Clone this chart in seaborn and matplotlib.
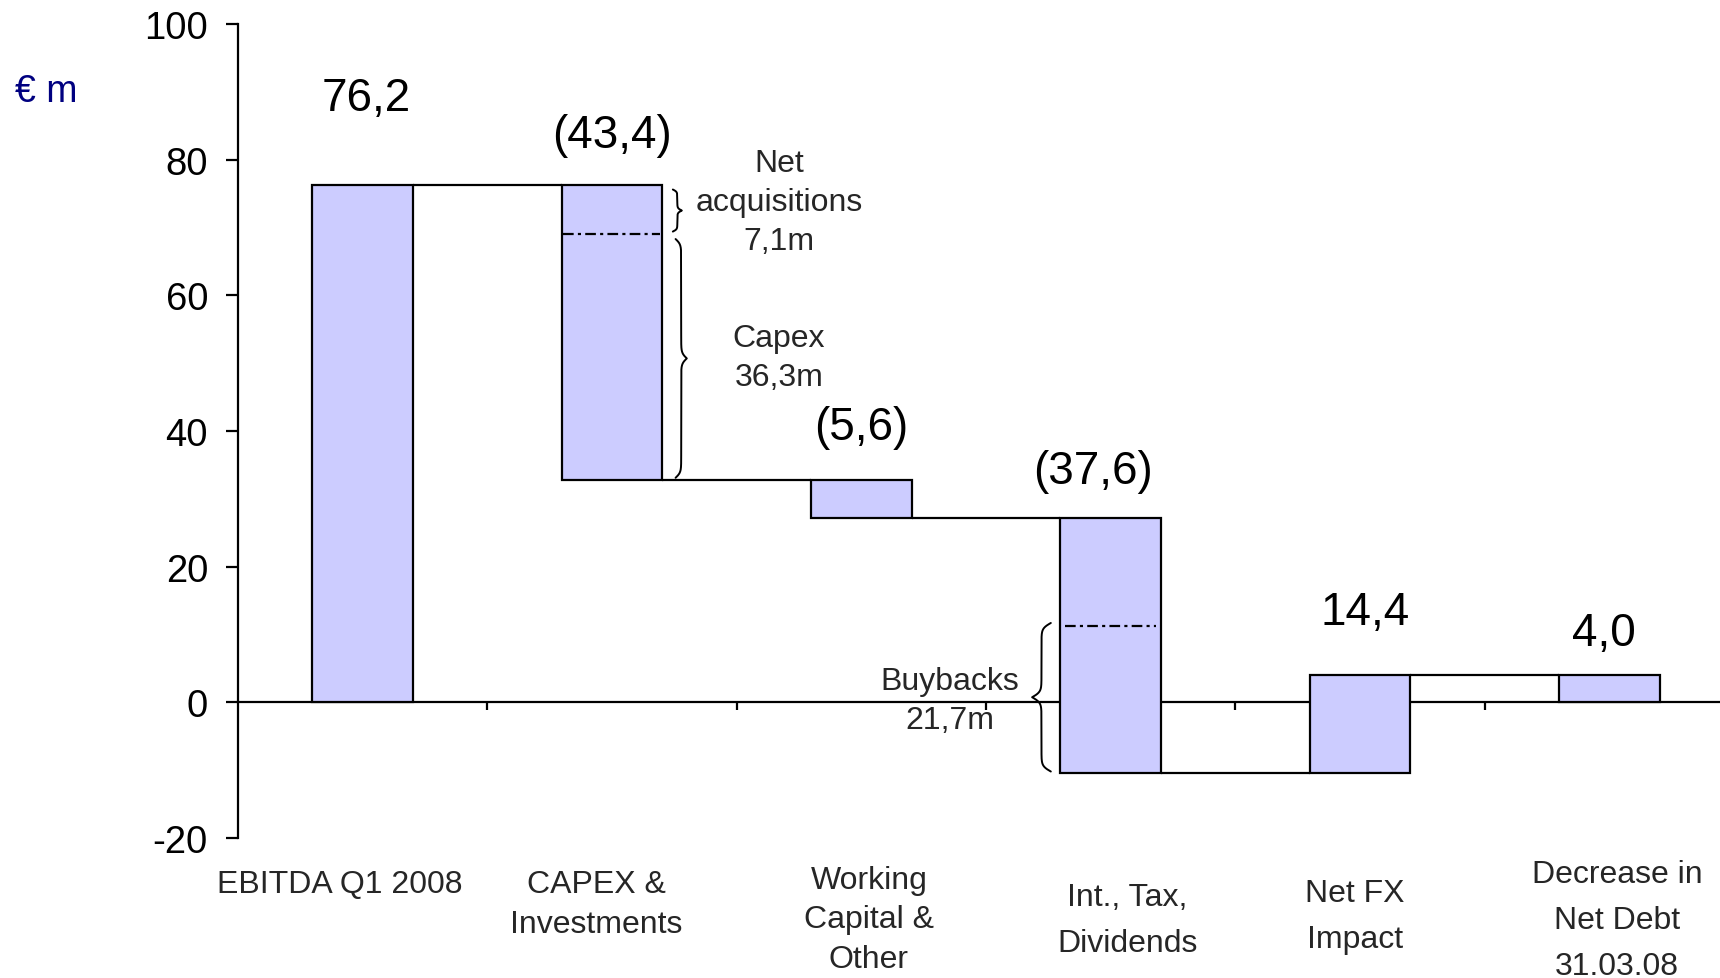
import numpy as np
import pandas as pd
import matplotlib
matplotlib.use("Agg")
import matplotlib.pyplot as plt
import seaborn as sns

# ---------------- data ----------------
categories = ["EBITDA Q1 2008", "CAPEX &\nInvestments", "Working\nCapital &\nOther",
              "Int., Tax,\nDividends", "Net FX\nImpact", "Decrease in\nNet Debt\n31.03.08"]
steps = [76.2, -43.4, -5.6, -37.6, 14.4]      # movements
final_value = 4.0                              # decrease in net debt
acquisitions = 7.1
capex = 36.3
buybacks = 21.7
y_ticks = [-20, 0, 20, 40, 60, 80, 100]
y_tick_labels = ["-20", "0", "20", "40", "60", "80", "100"]
unit_label = "€ m"

# ---------------- derived waterfall geometry ----------------
tops, bottoms = [], []
running = 0.0
for s in steps:
    new = running + s
    bottoms.append(min(running, new))
    tops.append(max(running, new))
    running = new
bottoms.append(0.0)
tops.append(final_value)
heights = [t - b for t, b in zip(tops, bottoms)]
levels = list(np.cumsum(steps))  # running totals after each step
all_values = steps + [final_value]


def fmt(v):
    s = f"{abs(v):.1f}".replace(".", ",")
    return f"({s})" if v < 0 else s


df = pd.DataFrame({"category": categories, "height": heights})

sns.set_style("white")
plt.rcParams["font.family"] = ["Liberation Sans", "DejaVu Sans"]
plt.rcParams["axes.unicode_minus"] = False

fig = plt.figure(figsize=(17.2, 9.79), dpi=100)
ax = fig.add_axes([238 / 1720, 140 / 979, 1496 / 1720, 814 / 979])

BAR_W = 0.405
LW = 1.6
sns.barplot(data=df, x="category", y="height", bottom=bottoms, color="#CCCCFF",
            saturation=1, edgecolor="black", linewidth=LW, width=BAR_W,
            errorbar=None, ax=ax, zorder=2)

ax.set_xlim(-0.5, len(categories) - 0.5)
ax.set_ylim(-20, 100)
ax.set_xlabel("")
ax.set_ylabel("")

# spines
for side in ["top", "right"]:
    ax.spines[side].set_visible(False)
ax.spines["bottom"].set_position(("data", 0))
ax.spines["bottom"].set_zorder(1)
ax.spines["bottom"].set_linewidth(LW)
ax.spines["left"].set_linewidth(LW)
ax.spines["left"].set_color("black")
ax.spines["bottom"].set_color("black")

# y ticks
ax.set_yticks(y_ticks)
ax.set_yticklabels(y_tick_labels)
ax.tick_params(axis="y", direction="out", length=8.6, width=LW, pad=13,
               labelsize=27.5, colors="black", left=True)

# x ticks: boundaries as minor ticks on zero line, labels drawn separately
n = len(categories)
ax.set_xticks(range(n))
ax.set_xticklabels([""] * n)
ax.tick_params(axis="x", which="major", length=0)
ax.set_xticks([i + 0.5 for i in range(n - 1)], minor=True)
ax.tick_params(axis="x", which="minor", direction="out", length=5.8, width=LW,
               bottom=True, colors="black")

# connectors
for i, lvl in enumerate(levels):
    ax.plot([i + BAR_W / 2, i + 1 - BAR_W / 2], [lvl, lvl], color="black",
            lw=LW, zorder=1.5, solid_capstyle="butt")

# value labels
label_dx = [0.013, 0.0, 0.0, -0.07, 0.02, -0.02]
label_dy = [12.85, 7.45, 7.85, 6.85, 9.35, 6.25]
for i, v in enumerate(all_values):
    ax.text(i + label_dx[i], tops[i] + label_dy[i], fmt(v), ha="center", va="center",
            fontsize=33, color="black")

# dash-dot split lines
dash = (0, (4.8, 1.9, 1.4, 1.9))
acq_split = levels[0] - acquisitions
ax.plot([1 - BAR_W / 2 + 0.005, 1 + BAR_W / 2 - 0.01], [acq_split, acq_split],
        color="black", lw=LW, linestyle=dash, zorder=3)
buy_split = levels[3] + buybacks
ax.plot([3 - BAR_W / 2 + 0.02, 3 + BAR_W / 2 - 0.02], [buy_split, buy_split],
        color="black", lw=LW, linestyle=dash, zorder=3)


def vbrace(x, y0, y1, w, direction, beta):
    h = (y1 - y0) / 2
    t = np.linspace(0, h, 301)
    half = 1 / (1 + np.exp(-beta * (t - t[0]))) + 1 / (1 + np.exp(-beta * (t - t[-1])))
    prof = np.concatenate([half, half[-2::-1]])
    ys = np.linspace(y0, y1, len(prof))
    xs = x + direction * w * (prof - 0.5)
    ax.plot(xs, ys, color="black", lw=1.4, zorder=3)


vbrace(1.244, acq_split + 0.3, levels[0] - 0.6, 0.036, 1, 6)
vbrace(1.255, levels[1] + 0.3, acq_split - 0.8, 0.045, 1, 2.5)
vbrace(2.76, levels[3] + 0.2, buy_split + 0.4, 0.075, -1, 2.5)

# annotation texts
ann_size = 23
ann_ls = 1.4
ax.text(1.669, 73.8, f"Net\nacquisitions\n{fmt(acquisitions)}m", ha="center", va="center",
        fontsize=ann_size, linespacing=ann_ls)
ax.text(1.669, 50.8, f"Capex\n{fmt(capex)}m", ha="center", va="center",
        fontsize=ann_size, linespacing=ann_ls)
ax.text(2.356, 0.25, f"Buybacks\n{fmt(buybacks)}m", ha="center", va="center",
        fontsize=ann_size, linespacing=ann_ls, zorder=4)

# category labels
cat_x = [-0.09, 0.936, 2.03, 3.066, 3.98, 5.03]
cat_y = [-26.8, -29.7, -32.0, -32.1, -31.5, -32.1]
cat_ls = [1.42, 1.42, 1.42, 1.68, 1.70, 1.68]
for i, c in enumerate(categories):
    ax.text(cat_x[i], cat_y[i], c, ha="center", va="center", fontsize=ann_size,
            linespacing=cat_ls[i], clip_on=False)

# unit label
fig.text(46 / 1720, 1 - 92 / 979, unit_label, ha="center", va="center",
         fontsize=27, color="#000080")

fig.savefig("out.png", dpi=100)
